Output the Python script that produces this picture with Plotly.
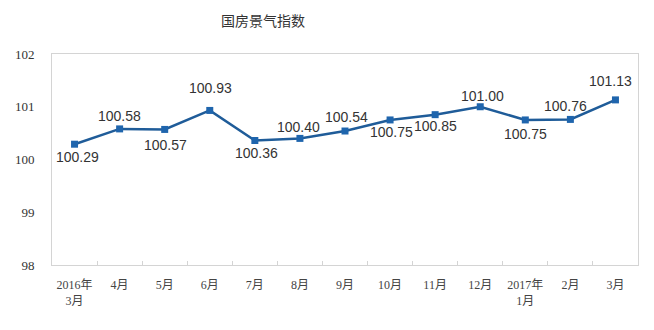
import plotly.graph_objects as go

title = "国房景气指数"
categories = ["2016年<br>3月", "4月", "5月", "6月", "7月", "8月", "9月", "10月",
              "11月", "12月", "2017年<br>1月", "2月", "3月"]
values = [100.29, 100.58, 100.57, 100.93, 100.36, 100.40, 100.54, 100.75,
          100.85, 101.00, 100.75, 100.76, 101.13]
y_ticks = [98, 99, 100, 101, 102]

# label offsets (pixels) relative to each point
label_dx = [3, 0, 1, 1, 2, -1, 1, 1, 0, 2, 0, -5, -5]
label_dy = [-13, 13, -16, 22, -12, 11, 14, -12, -11, 11, -14, 13, 19]

fig = go.Figure()
fig.add_trace(go.Scatter(
    x=categories, y=values, mode="lines+markers",
    line=dict(color="#1f5c99", width=2.5),
    marker=dict(symbol="square", size=7, color="#1f65ad"),
    hoverinfo="skip",
))

for c, v, dx, dy in zip(categories, values, label_dx, label_dy):
    fig.add_annotation(x=c, y=v, text=f"{v:.2f}", showarrow=False,
                       xshift=dx, yshift=dy,
                       font=dict(family="Liberation Sans, Arial", size=14, color="#333333"))

fig.add_annotation(xref="paper", yref="paper", x=(263 - 52) / 586, y=1,
                   xanchor="center", yanchor="middle",
                   yshift=34, text=title, showarrow=False,
                   font=dict(family="Noto Sans CJK SC", size=14, color="#333333"))

fig.update_layout(
    width=654, height=330,
    margin=dict(l=52, r=16, t=54, b=65),
    paper_bgcolor="white", plot_bgcolor="white",
    showlegend=False,
    xaxis=dict(
        type="category", range=[-0.5, 12.5],
        showline=True, mirror=True, linecolor="#d4d4d4", linewidth=1,
        showgrid=False, zeroline=False,
        ticks="inside", tickson="boundaries", ticklen=4, tickcolor="#d4d4d4",
        ticklabelstandoff=9,
        tickfont=dict(family="Liberation Serif, Noto Sans CJK SC", size=12, color="#444444"),
    ),
    yaxis=dict(
        range=[98, 102], tickvals=y_ticks,
        showline=True, mirror=True, linecolor="#d4d4d4", linewidth=1,
        showgrid=False, zeroline=False, ticks="",
        ticklabelstandoff=14,
        tickfont=dict(family="Liberation Serif", size=13, color="#333333"),
    ),
)

fig.write_html("out.html")
